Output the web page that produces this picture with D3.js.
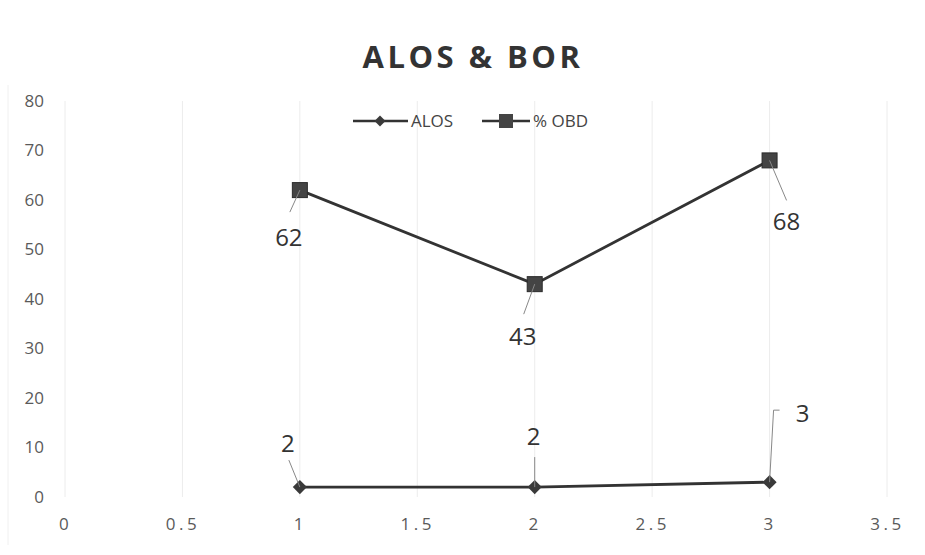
<!DOCTYPE html>
<html>
<head>
<meta charset="utf-8">
<script src="https://cdn.jsdelivr.net/npm/d3@7"></script>
<style>
  html, body { margin: 0; padding: 0; background: #fff; }
  svg { display: block; }
  text { font-family: "Open Sans", "Noto Sans", sans-serif; }
</style>
</head>
<body>
<svg id="chart" width="925" height="555"></svg>
<script>
// Series data
const xValues = [1, 2, 3];
const alosValues = [2, 2, 3];
const obdValues = [62, 43, 68];
const xTicks = [0, 0.5, 1, 1.5, 2, 2.5, 3, 3.5];
const yTicks = [0, 10, 20, 30, 40, 50, 60, 70, 80];
const seriesNames = ["ALOS", "% OBD"];
const chartTitle = "ALOS & BOR";

const svg = d3.select("#chart");
const W = 925, H = 555;
const margin = { left: 65, right: 38, top: 101, bottom: 58 };

const x = d3.scaleLinear().domain([0, 3.5]).range([margin.left, W - margin.right]);
const y = d3.scaleLinear().domain([0, 80]).range([H - margin.bottom, margin.top]);

const ink = "#333";

// faint vertical gridlines
svg.append("g")
  .selectAll("line")
  .data(xTicks)
  .join("line")
  .attr("x1", d => x(d)).attr("x2", d => x(d))
  .attr("y1", y(80)).attr("y2", y(0))
  .attr("stroke", "#ececec").attr("stroke-width", 1);
// faint left border of the chart area
svg.append("line").attr("x1", 8).attr("x2", 8).attr("y1", 85).attr("y2", 545)
  .attr("stroke", "#f0f0f0").attr("stroke-width", 1);

// y axis labels
const yAxis = d3.axisLeft(y).tickValues(yTicks).tickSize(0).tickPadding(0);
svg.append("g")
  .attr("transform", `translate(${margin.left - 21},0)`)
  .call(yAxis)
  .call(g => g.select(".domain").remove())
  .call(g => g.selectAll("text")
    .attr("font-size", 17).attr("fill", "#5a5a5a")
    .attr("font-family", "'Open Sans', sans-serif"));

// x axis labels (spaced-out digits)
const xAxis = d3.axisBottom(x).tickValues(xTicks).tickSize(0).tickPadding(0)
  .tickFormat(d => String(d));
svg.append("g")
  .attr("transform", `translate(0,${y(0) + 21})`)
  .call(xAxis)
  .call(g => g.select(".domain").remove())
  .call(g => g.selectAll("text")
    .attr("font-size", 17).attr("fill", "#5a5a5a")
    .attr("letter-spacing", 3.5)
    .attr("font-family", "'Open Sans', sans-serif"));

// title
svg.append("text")
  .attr("x", 473).attr("y", 68)
  .attr("text-anchor", "middle")
  .attr("font-size", 31).attr("font-weight", "bold")
  .attr("letter-spacing", 3.5)
  .attr("fill", ink)
  .text(chartTitle);

// lines
const line = d3.line().x(d => x(d[0])).y(d => y(d[1]));
const alosPts = xValues.map((v, i) => [v, alosValues[i]]);
const obdPts = xValues.map((v, i) => [v, obdValues[i]]);

svg.append("path").datum(obdPts).attr("d", line)
  .attr("fill", "none").attr("stroke", ink).attr("stroke-width", 2.8);
svg.append("path").datum(alosPts).attr("d", line)
  .attr("fill", "none").attr("stroke", ink).attr("stroke-width", 2.8);

// markers
const sq = 15;
svg.append("g").selectAll("rect").data(obdPts).join("rect")
  .attr("x", d => x(d[0]) - sq / 2).attr("y", d => y(d[1]) - sq / 2)
  .attr("width", sq).attr("height", sq)
  .attr("fill", "#444").attr("stroke", "#2a2a2a").attr("stroke-width", 1);

svg.append("g").selectAll("path").data(alosPts).join("path")
  .attr("transform", d => `translate(${x(d[0])},${y(d[1])}) rotate(45)`)
  .attr("d", d3.symbol().type(d3.symbolSquare).size(100))
  .attr("fill", "#3a3a3a");

// data labels with leader lines: [label dx, label dy, leader end dx, leader end dy]
const obdLabelOffsets = [[-11, 56, -10, 22], [-12, 61, -11, 30], [17, 70, 17, 40]];
const alosLabelOffsets = [[-12, -35, -11, -27], [-1, -42, 0, -30], [33, -60, 4, -72]];

function drawLabels(pts, offs) {
  pts.forEach((d, i) => {
    const px = x(d[0]), py = y(d[1]);
    const [lx, ly, ex, ey] = offs[i];
    svg.append("line")
      .attr("x1", px).attr("y1", py)
      .attr("x2", px + ex).attr("y2", py + ey)
      .attr("stroke", "#888").attr("stroke-width", 1);
    svg.append("text")
      .attr("x", px + lx).attr("y", py + ly)
      .attr("text-anchor", "middle")
      .attr("font-size", 24).attr("fill", ink)
      .text(d[1]);
  });
}
drawLabels(obdPts, obdLabelOffsets);
drawLabels(alosPts, alosLabelOffsets);
// short hook on the "3" leader
{
  const px = x(3), py = y(3);
  svg.append("line").attr("x1", px + 4).attr("y1", py - 72)
    .attr("x2", px + 10).attr("y2", py - 72)
    .attr("stroke", "#888").attr("stroke-width", 1);
}

// legend
const legend = svg.append("g").attr("transform", "translate(353,121)");
const legItems = [
  { name: seriesNames[0], x0: 0, len: 55, mark: "diamond" },
  { name: seriesNames[1], x0: 129, len: 48, mark: "square" }
];
legItems.forEach(it => {
  const g = legend.append("g").attr("transform", `translate(${it.x0},0)`);
  g.append("line").attr("x1", 0).attr("x2", it.len).attr("y1", 0).attr("y2", 0)
    .attr("stroke", ink).attr("stroke-width", 2.4);
  if (it.mark === "diamond") {
    g.append("path").attr("transform", "translate(27,0) rotate(45)")
      .attr("d", d3.symbol().type(d3.symbolSquare).size(60)).attr("fill", "#3a3a3a");
  } else {
    g.append("rect").attr("x", 17).attr("y", -7).attr("width", 14).attr("height", 14)
      .attr("fill", "#444");
  }
  g.append("text").attr("x", it.len + 3).attr("y", 6)
    .attr("font-size", 17).attr("fill", "#444")
    .text(it.name);
});
</script>
</body>
</html>
